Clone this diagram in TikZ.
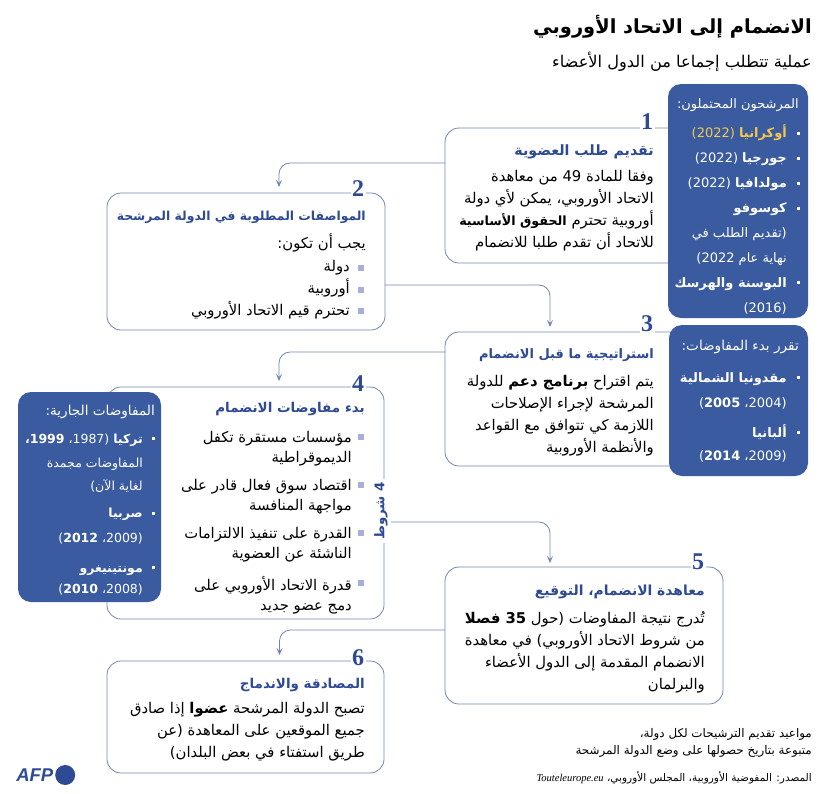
\documentclass[tikz,border=0pt]{standalone}
\usepackage{fontspec}
\usetikzlibrary{arrows.meta}
\usetikzlibrary{positioning}
\setmainfont{Liberation Serif}
\newfontfamily\arabicfont[Script=Arabic]{DejaVu Sans}
\newfontfamily\logofont{Liberation Sans}
\TeXXeTstate=1
\setlength{\lineskiplimit}{-30pt}
\definecolor{boxblue}{HTML}{3A5B9F}
\definecolor{headblue}{HTML}{2E4A94}
\definecolor{edgeblue}{HTML}{7486B0}
\definecolor{markblue}{HTML}{A9AED6}
\definecolor{candgold}{HTML}{F2C94C}
\newcommand{\rtltext}[1]{\beginR #1\endR}
\newcommand{\bodyfont}{\arabicfont\fontsize{14.8}{22}\selectfont}
\newcommand{\panelfont}{\arabicfont\fontsize{13}{25}\selectfont}
\newcommand{\tinyfont}{\arabicfont\fontsize{11.9}{17}\selectfont}
\tikzset{
  stepbox/.style={draw=edgeblue, line width=0.8pt, fill=white, rounded corners=14pt, inner sep=0pt, outer sep=0pt},
  bluebox/.style={fill=boxblue, rounded corners=13pt, inner sep=0pt, outer sep=0pt},
  link/.style={draw=edgeblue, line width=0.8pt, rounded corners=11pt, -{Stealth[length=7pt, width=6pt, inset=3pt]}},
  stepnum/.style={fill=white, text=headblue, inner sep=1.5pt, font=\fontsize{24}{24}\selectfont\bfseries},
  headtext/.style={anchor=east, inner sep=0pt, text=headblue, font=\arabicfont\fontsize{13.5}{16}\selectfont\bfseries},
  bodytext/.style={anchor=north east, align=right, inner sep=0pt, font=\bodyfont},
  listtext/.style={bodytext, font=\arabicfont\fontsize{14.8}{20}\selectfont},
  whitetext/.style={anchor=north east, align=right, inner sep=0pt, text=white, font=\panelfont},
  footnote/.style={anchor=north east, align=right, inner sep=0pt, font=\tinyfont},
  whitemark/.style={fill=white, minimum size=3pt, inner sep=0pt},
  listmark/.style={fill=markblue, minimum size=6.5pt, inner sep=0pt},
}
\begin{document}
\begin{tikzpicture}[x=1pt, y=-1pt]
  \useasboundingbox (0,0) rectangle (830,793);

  % Title and subtitle
  \node[anchor=east, inner sep=0pt, font=\arabicfont\fontsize{19.4}{26}\selectfont\bfseries] (title) at (812,27) {\rtltext{الانضمام إلى الاتحاد الأوروبي}};
  \node[anchor=east, inner sep=0pt, font=\arabicfont\fontsize{16.2}{18}\selectfont] (subtitle) at (812,62) {\rtltext{عملية تتطلب إجماعا من الدول الأعضاء}};

  % Step frames
  \node[stepbox, minimum width=245pt, minimum height=135pt] (stepone) at (567.5,195.5) {};
  \node[stepbox, minimum width=278pt, minimum height=137pt] (steptwo) at (246,261.5) {};
  \node[stepbox, minimum width=245pt, minimum height=134pt] (stepthree) at (567.5,399) {};
  \node[stepbox, minimum width=277pt, minimum height=232pt] (stepfour) at (245.5,503) {};
  \node[stepbox, minimum width=278pt, minimum height=137pt] (stepfive) at (584,635.5) {};
  \node[stepbox, minimum width=277pt, minimum height=112pt] (stepsix) at (245.5,717) {};

  % Links between the steps
  \draw[link] ([yshift=32.5pt]stepone.west) -| ([xshift=33pt,yshift=6pt]steptwo.north);
  \draw[link] ([yshift=-23.5pt]steptwo.east) -| ([xshift=-17.5pt,yshift=5pt]stepthree.north);
  \draw[link] ([yshift=47pt]stepthree.west) -| ([xshift=33.5pt,yshift=6pt]stepfour.north);
  \draw[link] ([yshift=-19pt]stepfour.east) -| ([xshift=-34pt,yshift=4pt]stepfive.north);
  \draw[link] ([yshift=5.5pt]stepfive.west) -| ([xshift=34pt,yshift=6pt]stepsix.north);

  % Blue side panels
  \node[bluebox, minimum width=140pt, minimum height=234pt] (paneltop) at (738,201) {};
  \node[bluebox, minimum width=139pt, minimum height=151pt] (panelmid) at (738.5,400.5) {};
  \node[bluebox, minimum width=143pt, minimum height=210pt] (panelleft) at (89.5,497) {};

  % Step numbers
  \node[stepnum] (numone) at (647,122) {1};
  \node[stepnum] (numtwo) at (358,189) {2};
  \node[stepnum] (numthree) at (647,324) {3};
  \node[stepnum] (numfour) at (358,384) {4};
  \node[stepnum] (numfive) at (698,562) {5};
  \node[stepnum] (numsix) at (358,658) {6};

  % Step headings
  \node[headtext, font=\arabicfont\fontsize{14.2}{16}\selectfont\bfseries] (headone) at (654,152) {\rtltext{تقديم طلب العضوية}};
  \node[headtext, font=\arabicfont\fontsize{12.4}{16}\selectfont\bfseries] (headtwo) at (366,217) {\rtltext{المواصفات المطلوبة في الدولة المرشحة}};
  \node[headtext, font=\arabicfont\fontsize{13}{16}\selectfont\bfseries] (headthree) at (654,355) {\rtltext{استراتيجية ما قبل الانضمام}};
  \node[headtext] (headfour) at (365,409) {\rtltext{بدء مفاوضات الانضمام}};
  \node[headtext, font=\arabicfont\fontsize{13.9}{16}\selectfont\bfseries] (headfive) at (705,592) {\rtltext{معاهدة الانضمام، التوقيع}};
  \node[headtext] (headsix) at (365,685) {\rtltext{المصادقة والاندماج}};

  % Step bodies
  \node[bodytext] (bodyone) at (654,170) {\rtltext{وفقا للمادة 49 من معاهدة}\\\rtltext{الاتحاد الأوروبي، يمكن لأي دولة}\\\rtltext{أوروبية تحترم {\fontsize{12.7}{22}\selectfont\bfseries الحقوق الأساسية}}\\\rtltext{للاتحاد أن تقدم طلبا للانضمام}};
  \node[bodytext] (bodytwo) at (366,234) {\rtltext{يجب أن تكون:}};
  \node[bodytext] (listtwo) at (350,260) {\rtltext{دولة}\\\rtltext{أوروبية}\\\rtltext{تحترم قيم الاتحاد الأوروبي}};
  \node[bodytext] (bodythree) at (654,375) {\rtltext{يتم اقتراح \textbf{برنامج دعم} للدولة}\\\rtltext{المرشحة لإجراء الإصلاحات}\\\rtltext{اللازمة كي تتوافق مع القواعد}\\\rtltext{والأنظمة الأوروبية}};
  \node[listtext] (listfoura) at (352,431) {\rtltext{مؤسسات مستقرة تكفل}\\\rtltext{الديموقراطية}};
  \node[listtext] (listfourb) at (352,479) {\rtltext{اقتصاد سوق فعال قادر على}\\\rtltext{مواجهة المنافسة}};
  \node[listtext] (listfourc) at (352,527) {\rtltext{القدرة على تنفيذ الالتزامات}\\\rtltext{الناشئة عن العضوية}};
  \node[listtext] (listfourd) at (352,576) {\rtltext{قدرة الاتحاد الأوروبي على}\\\rtltext{دمج عضو جديد}};
  \node[bodytext] (bodyfive) at (705,611) {\rtltext{تُدرج نتيجة المفاوضات (حول \textbf{35 فصلا}}\\\rtltext{من شروط الاتحاد الأوروبي) في معاهدة}\\\rtltext{الانضمام المقدمة إلى الدول الأعضاء}\\\rtltext{والبرلمان}};
  \node[bodytext] (bodysix) at (365,702) {\rtltext{تصبح الدولة المرشحة \textbf{عضوا} إذا صادق}\\\rtltext{جميع الموقعين على المعاهدة (عن}\\\rtltext{طريق استفتاء في بعض البلدان)}};

  % Vertical label on step 4
  \node[rotate=90, fill=white, inner sep=3pt, text=headblue, font=\arabicfont\fontsize{13.4}{14}\selectfont\bfseries] (fourconds) at (381,511) {\rtltext{4 شروط}};

  % Text of the blue panels
  \node[whitetext] (paneltophead) at (799,98) {\rtltext{المرشحون المحتملون:}};
  \node[whitetext] (paneltoplist) at (787,124.5) {\textcolor{candgold}{\rtltext{\textbf{أوكرانيا} (2022)}}\\\rtltext{\textbf{جورجيا} (2022)}\\\rtltext{\textbf{مولدافيا} (2022)}\\\rtltext{\textbf{كوسوفو}}\\\rtltext{(تقديم الطلب في}\\\rtltext{نهاية عام 2022)}\\\rtltext{\textbf{البوسنة والهرسك}}\\\rtltext{(2016)}};
  \node[whitetext, font=\arabicfont\fontsize{13.6}{25}\selectfont] (panelmidhead) at (799,340) {\rtltext{تقرر بدء المفاوضات:}};
  \node[whitetext] (panelmidlista) at (787,372) {\rtltext{\textbf{مقدونيا الشمالية}}\\\rtltext{(2004، \textbf{2005})}};
  \node[whitetext, font=\arabicfont\fontsize{13}{23}\selectfont] (panelmidlistb) at (787,424) {\rtltext{\textbf{ألبانيا}}\\\rtltext{(2009، \textbf{2014})}};
  \node[whitetext, font=\arabicfont\fontsize{13.6}{25}\selectfont] (panelleftlhead) at (155,405) {\rtltext{المفاوضات الجارية:}};
  \node[whitetext, font=\arabicfont\fontsize{12.5}{23.5}\selectfont] (panelleftlista) at (143,434) {\rtltext{\textbf{تركيا} (1987، \textbf{1999،}}\\\rtltext{المفاوضات مجمدة}\\\rtltext{لغاية الآن)}};
  \node[whitetext, font=\arabicfont\fontsize{12.5}{25}\selectfont] (panelleftlistb) at (143,508) {\rtltext{\textbf{صربيا}}\\\rtltext{(2009، \textbf{2012})}};
  \node[whitetext, font=\arabicfont\fontsize{12.5}{21}\selectfont] (panelleftlistc) at (143,566) {\rtltext{\textbf{مونتينيغرو}}\\\rtltext{(2008، \textbf{2010})}};

  % List marks
  \foreach \x/\y [count=\i] in {361/268, 361/290, 361/311, 361/437, 361/485, 361/533, 361/583} {
    \node[listmark] (mark\i) at (\x,\y) {};
  }
  \foreach \x/\y [count=\i] in {798/133, 798/158, 798/183, 798/208, 798/282, 798/377, 798/432, 153/438, 153/513, 153/567} {
    \node[whitemark] (dot\i) at (\x,\y) {};
  }

  % Notes and source
  \node[footnote] (noteline) at (812,728) {\rtltext{مواعيد تقديم الترشيحات لكل دولة،}\\\rtltext{متبوعة بتاريخ حصولها على وضع الدولة المرشحة}};
  \node[footnote, font=\arabicfont\fontsize{10.5}{12}\selectfont] (source) at (812,771) {\rtltext{المصدر: المفوضية الأوروبية، المجلس الأوروبي، \beginL{\rmfamily\itshape\fontsize{10.5}{12}\selectfont Touteleurope.eu}\endL}};

  % AFP logo
  \node[anchor=east, inner sep=0pt, text=headblue, font=\logofont\fontsize{18.5}{19}\selectfont\bfseries\itshape] (afptext) at (53.5,775) {AFP};
  \node[circle, fill=headblue, minimum size=20pt, inner sep=0pt, right=1.5pt of afptext] (afpdot) {};
\end{tikzpicture}
\end{document}
